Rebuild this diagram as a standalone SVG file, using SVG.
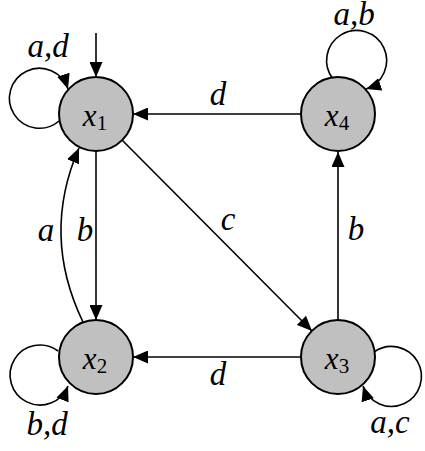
<svg xmlns="http://www.w3.org/2000/svg" width="425" height="451" viewBox="0 0 425 451">
<style>
.node{fill:#c0c0c0;stroke:#000;stroke-width:2}
.edge{fill:none;stroke:#000;stroke-width:1.6;marker-end:url(#ah)}
.lbl{font-family:"Liberation Serif","Times New Roman",serif;font-style:italic;font-size:33px;fill:#000;text-anchor:middle}
.nl{font-family:"Liberation Serif","Times New Roman",serif;font-size:31px;fill:#000;text-anchor:middle}
.sub{font-style:normal;font-size:21px}
</style>
<defs>
<marker id="ah" markerUnits="userSpaceOnUse" markerWidth="15" markerHeight="13" refX="15" refY="6.5" orient="auto">
<path d="M0,0 L15,6.5 L0,13 z" fill="#000"/>
</marker>
</defs>
<rect width="425" height="451" fill="#fff"/>
<g id="connectors">
<path class="edge" d="M96 33 L96 77"/>
<path class="edge" d="M59 121 A30 30 0 1 1 68 89"/>
<path class="edge" d="M333 79 A30 30 0 1 1 366 89"/>
<path class="edge" d="M58 351 A30 30 0 1 0 68 386"/>
<path class="edge" d="M374 352 A30 30 0 1 1 363 386"/>
<path class="edge" d="M302 114 L133 114"/>
<path class="edge" d="M301 357 L133 357"/>
<path class="edge" d="M96 151 L96 320"/>
<path class="edge" d="M338 320 L338 152"/>
<path class="edge" d="M122 140 L312 331"/>
<path class="edge" d="M83 322 Q41 235 79 148"/>
<text class="lbl" x="48" y="57">a,d</text>
<text class="lbl" x="354" y="25">a,b</text>
<text class="lbl" x="47" y="435">b,d</text>
<text class="lbl" x="390" y="433">a,c</text>
<text class="lbl" x="218" y="105">d</text>
<text class="lbl" x="218" y="385">d</text>
<text class="lbl" x="46" y="241">a</text>
<text class="lbl" x="85" y="241">b</text>
<text class="lbl" x="228" y="230">c</text>
<text class="lbl" x="356" y="240">b</text>
</g>
<g id="x1"><circle class="node" cx="96" cy="114" r="37"/><text class="nl" x="95" y="126"><tspan font-style="italic">x</tspan><tspan class="sub" dy="4">1</tspan></text></g>
<g id="x2"><circle class="node" cx="96" cy="357" r="37"/><text class="nl" x="95" y="369"><tspan font-style="italic">x</tspan><tspan class="sub" dy="4">2</tspan></text></g>
<g id="x3"><circle class="node" cx="338" cy="357" r="37"/><text class="nl" x="337" y="369"><tspan font-style="italic">x</tspan><tspan class="sub" dy="4">3</tspan></text></g>
<g id="x4"><circle class="node" cx="338" cy="114" r="37"/><text class="nl" x="337" y="126"><tspan font-style="italic">x</tspan><tspan class="sub" dy="4">4</tspan></text></g>
</svg>
